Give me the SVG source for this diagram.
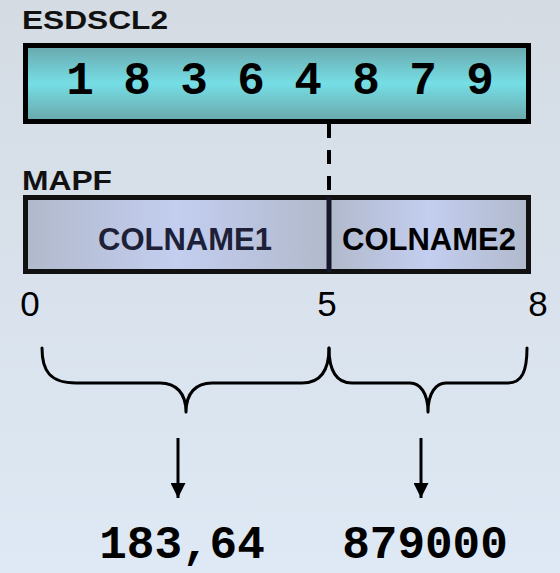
<svg xmlns="http://www.w3.org/2000/svg" width="560" height="573" viewBox="0 0 560 573">
  <defs>
    <linearGradient id="bg" x1="0" y1="0" x2="0" y2="1">
      <stop offset="0" stop-color="#d4dbe3"/>
      <stop offset="1" stop-color="#dee9f5"/>
    </linearGradient>
    <linearGradient id="teal" x1="0" y1="0" x2="0" y2="1">
      <stop offset="0" stop-color="#69a7ac"/>
      <stop offset="0.5" stop-color="#76dee5"/>
      <stop offset="1" stop-color="#69a6aa"/>
    </linearGradient>
    <linearGradient id="lav" x1="0" y1="0" x2="1" y2="0">
      <stop offset="0" stop-color="#b1b9cb"/>
      <stop offset="0.5" stop-color="#c3cef0"/>
      <stop offset="1" stop-color="#b1b9cb"/>
    </linearGradient>
    <marker id="arrow" viewBox="0 0 10 10" refX="10" refY="5" markerWidth="5" markerHeight="5" markerUnits="strokeWidth" orient="auto">
      <path d="M0,0 L10,5 L0,10 z" fill="#000"/>
    </marker>
  </defs>
  <style>
    .title { font-family: "Liberation Sans", Arial, sans-serif; font-weight: bold; fill: #111; }
    .digit { font-family: "Liberation Mono", "Courier New", monospace; font-weight: bold; fill: #000; text-anchor: middle; }
    .col { font-family: "Liberation Sans", Arial, sans-serif; font-weight: bold; text-anchor: middle; font-size: 31px; }
    .tick { font-family: "Liberation Sans", Arial, sans-serif; font-size: 35px; fill: #000; text-anchor: middle; }
    .brace { fill: none; stroke: #000; stroke-width: 3; stroke-linejoin: round; stroke-linecap: round; }
    .arr { stroke: #000; stroke-width: 3; marker-end: url(#arrow); }
  </style>

  <rect width="560" height="573" fill="url(#bg)"/>

  <!-- source record -->
  <g id="esdscl2">
    <text class="title" x="22" y="29" font-size="26" textLength="146" lengthAdjust="spacingAndGlyphs">ESDSCL2</text>
    <rect x="25.5" y="45.5" width="503" height="76" fill="url(#teal)" stroke="#000" stroke-width="5"/>
    <g class="digit" font-size="46">
      <text x="80" y="94">1</text>
      <text x="137" y="94">8</text>
      <text x="194" y="94">3</text>
      <text x="251" y="94">6</text>
      <text x="308" y="94">4</text>
      <text x="366" y="94">8</text>
      <text x="423" y="94">7</text>
      <text x="480" y="94">9</text>
    </g>
  </g>

  <!-- field map -->
  <g id="mapf">
    <text class="title" x="22" y="190" font-size="27" textLength="90" lengthAdjust="spacingAndGlyphs">MAPF</text>
    <rect x="25.5" y="197.5" width="303.5" height="74" fill="url(#lav)"/>
    <rect x="329" y="197.5" width="199.5" height="74" fill="url(#lav)"/>
    <rect x="25.5" y="197.5" width="503" height="74" fill="none" stroke="#111" stroke-width="5"/>
    <line x1="329" y1="197" x2="329" y2="272" stroke="#15172a" stroke-width="5"/>
    <text class="col" x="185" y="250" fill="#1e2038">COLNAME1</text>
    <text class="col" x="429" y="250" fill="#000">COLNAME2</text>
  </g>

  <g id="scale">
    <text class="tick" x="30" y="316">0</text>
    <text class="tick" x="327" y="316">5</text>
    <text class="tick" x="538" y="316">8</text>
  </g>

  <g id="results">
    <text class="digit" x="182" y="558" font-size="46">183,64</text>
    <text class="digit" x="425" y="558" font-size="46">879000</text>
  </g>

  <g id="connectors">
    <line x1="329" y1="124" x2="329" y2="196" stroke="#000" stroke-width="4" stroke-dasharray="14 12"/>
    <path class="brace" d="M42,348 C42,371 50,383 76,383 L160,383 C176,383 186,393 186,412 C186,393 196,383 212,383 L302,383 C320,383 329,371 329,348"/>
    <path class="brace" d="M329,348 C329,371 336,383 352,383 L410,383 C420,383 428,393 428,412 C428,393 436,383 446,383 L508,383 C522,383 527,371 527,348"/>
    <line class="arr" x1="178" y1="438" x2="178" y2="498"/>
    <line class="arr" x1="421" y1="438" x2="421" y2="498"/>
  </g>
</svg>
